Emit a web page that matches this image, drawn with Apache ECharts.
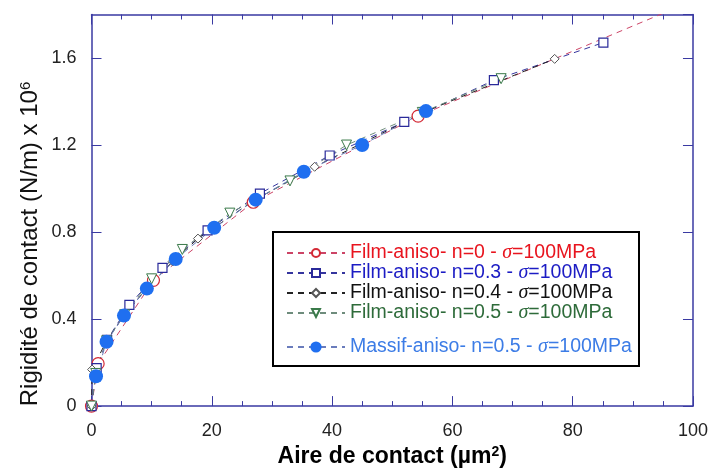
<!DOCTYPE html>
<html>
<head>
<meta charset="utf-8">
<script src="https://cdn.jsdelivr.net/npm/echarts@6/dist/echarts.min.js"></script>
<style>html,body{margin:0;padding:0;background:#fff}#c{width:711px;height:473px}</style>
</head>
<body>
<div id="c"></div>
<script>
// ---- Data (x: contact area µm², y: stiffness ×10^6 N/m) ----
const filmN0 = [[0,0],[1.1,0.195],[10.3,0.578],[26.9,0.937],[54.3,1.333],[98,1.84]];
const filmN03 = [[0,0],[0.86,0.175],[2.6,0.305],[6.3,0.465],[11.8,0.635],[19.3,0.808],[28,0.977],[39.6,1.152],[52,1.306],[66.9,1.498],[85.1,1.671]];
const filmN04 = [[0,0],[0.1,0.168],[2.5,0.30],[5.5,0.42],[9.3,0.545],[13.5,0.665],[17.7,0.77],[27,0.945],[37.1,1.10],[56,1.36],[77,1.596]];
const filmN05 = [[0,0],[0.7,0.15],[2.5,0.30],[5.5,0.42],[10.0,0.585],[15.1,0.72],[23,0.887],[33,1.035],[42.4,1.2],[55,1.35],[68.1,1.505]];
const massifN05 = [[0.75,0.137],[2.5,0.296],[5.4,0.416],[9.2,0.54],[14.0,0.676],[20.4,0.82],[27.3,0.949],[35.3,1.077],[45.0,1.2],[55.6,1.356]];

const names = [
  'Film-aniso- n=0 - σ=100MPa',
  'Film-aniso- n=0.3 - σ=100MPa',
  'Film-aniso- n=0.4 - σ=100MPa',
  'Film-aniso- n=0.5 - σ=100MPa',
  'Massif-aniso- n=0.5 - σ=100MPa'
];
const xTicks = [0,20,40,60,80,100];
const yTicks = [0,0.4,0.8,1.2,1.6];

const textColors = ['#e8141e','#1c1cc4','#111111','#2e6b3a','#3c7ce6'];
const richKeys = ['r','b','k','g','l'];
const axisColor = '#3a3aa2';
const sigmaStyle = c => ({fontFamily:'Liberation Serif', fontStyle:'italic', fontSize:20, color:c});
const rich = {};
richKeys.forEach((k,i)=>{ rich[k] = sigmaStyle(textColors[i]); });
const legendFmt = n => { const i = names.indexOf(n); return n.replace('σ', '{'+richKeys[i]+'|σ}'); };

const chart = echarts.init(document.getElementById('c'), null, {renderer:'canvas'});
const dash = [6,5];
function mk(name, data, lineColor, symbol, size, itemStyle, extra) {
  return Object.assign({
    name, type:'line', data, symbol, symbolSize:size, clip:true,
    lineStyle:{color:lineColor, width:1, type:dash},
    itemStyle, animation:false, z: 2
  }, extra||{});
}
const option = {
  animation:false,
  backgroundColor:'#fff',
  grid:{left:91.5, right:18, top:14.5, bottom:61, containLabel:false},
  xAxis:[{
    type:'value', min:0, max:100, interval:20, position:'bottom',
    axisLine:{onZero:false, lineStyle:{color:axisColor, width:1.5}},
    axisTick:{inside:true, length:10, lineStyle:{color:axisColor, width:1}},
    minorTick:{show:true, splitNumber:4, length:5, lineStyle:{color:axisColor, width:1}},
    splitLine:{show:false}, minorSplitLine:{show:false},
    axisLabel:{fontSize:18, color:'#222', margin:16, fontFamily:'Liberation Sans'},
    name:'Aire de contact (µm{sup|2})', nameLocation:'middle', nameGap:33,
    nameTextStyle:{fontSize:23, fontWeight:'bold', color:'#000', fontFamily:'Liberation Sans',
      rich:{sup:{fontSize:14, fontWeight:'bold', verticalAlign:'top', lineHeight:12, color:'#000', fontFamily:'Liberation Sans'}}}
  },{
    type:'value', min:0, max:100, interval:20, position:'top',
    axisLine:{onZero:false, lineStyle:{color:axisColor, width:1.5}},
    axisTick:{inside:true, length:10, lineStyle:{color:axisColor, width:1}},
    minorTick:{show:true, splitNumber:4, length:5, lineStyle:{color:axisColor, width:1}},
    splitLine:{show:false}, axisLabel:{show:false}
  }],
  yAxis:[{
    type:'value', min:0, max:1.8, interval:0.4, position:'left',
    axisLine:{onZero:false, lineStyle:{color:axisColor, width:1.5}},
    axisTick:{inside:true, length:10, lineStyle:{color:axisColor, width:1}},
    splitLine:{show:false},
    axisLabel:{fontSize:18, color:'#222', margin:15, showMaxLabel:false, fontFamily:'Liberation Sans',
      formatter: v => yTicks.some(t=>Math.abs(t-v)<1e-9) ? String(+v.toFixed(1)) : ''}
  },{
    type:'value', min:0, max:1.8, interval:0.4, position:'right',
    axisLine:{onZero:false, lineStyle:{color:axisColor, width:1.5}},
    axisTick:{inside:true, length:10, lineStyle:{color:axisColor, width:1}},
    splitLine:{show:false}, axisLabel:{show:false}
  }],
  legend:[{
    data: names.slice(0,4).map((n,i)=>({name:n, textStyle:{color:textColors[i]}})),
    orient:'vertical', left:286, top:243, padding:0,
    itemWidth:58, itemHeight:10, itemGap:0, selectedMode:false,
    textStyle:{fontSize:19.5, lineHeight:20, fontFamily:'Liberation Sans', rich},
    formatter: legendFmt
  },{
    data: [{name:names[4], textStyle:{color:textColors[4]}}],
    orient:'vertical', left:286, top:337, padding:0,
    itemWidth:58, itemHeight:14, itemGap:0, selectedMode:false,
    textStyle:{fontSize:19.5, lineHeight:20, fontFamily:'Liberation Sans', rich},
    formatter: legendFmt
  }],
  graphic:[{
    type:'rect', shape:{x:273, y:232, width:366, height:134},
    style:{fill:'#fff', stroke:'#000', lineWidth:2}, z:1
  },{
    type:'text', x:30, y:244, rotation:Math.PI/2,
    style:{
      text:'Rigidité de contact (N/m) x 10{sup|6}',
      font:'24px "Liberation Sans"', fill:'#111', align:'center', verticalAlign:'middle',
      rich:{sup:{fontSize:15, verticalAlign:'top', lineHeight:12, fill:'#111', fontFamily:'Liberation Sans'}}
    }, z:5
  }],
  series:[
    mk(names[0], filmN0, '#cc4466', 'circle', 12, {color:'#fff', borderColor:'#d42a36', borderWidth:1.2}),
    mk(names[1], filmN03, '#35359e', 'rect', 9, {color:'#fff', borderColor:'#2a2a9a', borderWidth:1.2}),
    mk(names[2], filmN04, '#222222', 'diamond', 9, {color:'#fff', borderColor:'#555', borderWidth:1}),
    mk(names[3], filmN05, '#6e8c7c', 'triangle', 10, {color:'#fff', borderColor:'#3a7a4a', borderWidth:1}, {symbolRotate:180}),
    mk(names[4], massifN05, '#6a7cbc', 'circle', 14, {color:'#1f6ff0', borderColor:'#1f6ff0', borderWidth:0})
  ]
};
chart.setOption(option);
</script>
</body>
</html>
